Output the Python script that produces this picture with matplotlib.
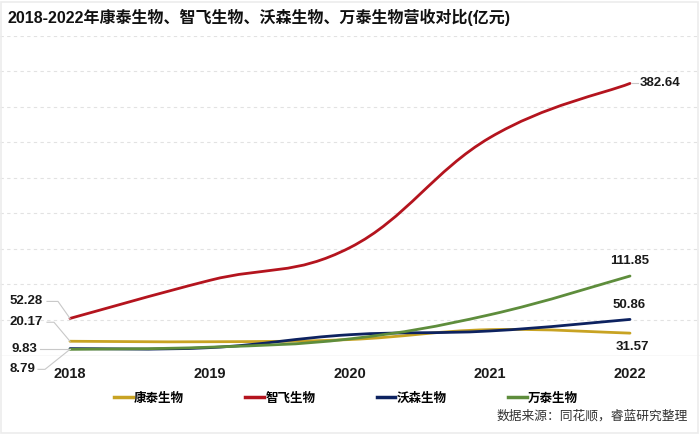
import numpy as np
import matplotlib
matplotlib.use("Agg")
import matplotlib.pyplot as plt
from matplotlib.path import Path
from matplotlib.patches import PathPatch, Rectangle
from matplotlib.lines import Line2D
import matplotlib.transforms as mtransforms

years = ["2018", "2019", "2020", "2021", "2022"]
kangtai = [20.17, 19.5, 22.6, 36.5, 31.57]
zhifei = [52.28, 105.87, 151.9, 306.52, 382.64]
wosen = [9.83, 11.21, 29.39, 34.63, 50.86]
wantai = [8.79, 11.84, 23.54, 57.5, 111.85]
names = ["康泰生物", "智飞生物", "沃森生物", "万泰生物"]
colors = ["#C8A323", "#B4141E", "#0D2260", "#5E8D3C"]
series = [kangtai, zhifei, wosen, wantai]
title = "2018-2022年康泰生物、智飞生物、沃森生物、万泰生物营收对比(亿元)"
source = "数据来源：同花顺，睿蓝研究整理"

NUMF = ["Liberation Sans", "Noto Sans CJK SC"]
CJKB = ["Noto Sans CJK SC", "DejaVu Sans"]

W, H = 700, 434
fig = plt.figure(figsize=(W / 100, H / 100), dpi=100)
fig.patch.set_facecolor("white")
ax = fig.add_axes([0, 1 - 355.6 / H, 1, (355.6 - 35.5) / H])
ax.set_xlim(-0.5, 4.5)
ax.set_ylim(0, 450)
for s in ax.spines.values():
    s.set_visible(False)
ax.set_yticks(np.arange(50, 451, 50))
ax.yaxis.grid(True, color="#e2e2e2", linestyle=(0, (3, 3)), linewidth=0.8)
ax.set_axisbelow(True)
ax.tick_params(axis="y", length=0, labelleft=False)
ax.axhline(0, color="#dcdcdc", linewidth=1.0, zorder=1)
x = np.arange(len(years))
ax.set_xticks(x)
ax.set_xticklabels(years, fontfamily=NUMF, fontweight="bold", fontsize=10.5, color="#1a1a1a")
ax.tick_params(axis="x", length=0, pad=8)


def smooth_path(xs, ys, s=0.2):
    pts = np.column_stack([xs, ys]).astype(float)
    n = len(pts)
    verts = [pts[0]]
    codes = [Path.MOVETO]
    for i in range(n - 1):
        p0 = pts[i - 1] if i > 0 else pts[i]
        p1 = pts[i]
        p2 = pts[i + 1]
        p3 = pts[i + 2] if i + 2 < n else pts[i + 1]
        c1 = p1 + s * (p2 - p0)
        c2 = p2 - s * (p3 - p1)
        verts += [c1, c2, p2]
        codes += [Path.CURVE4] * 3
    return Path(verts, codes)


for vals, c in zip(series, colors):
    patch = PathPatch(smooth_path(x, vals), facecolor="none", edgecolor=c,
                      linewidth=2.0, capstyle="round", zorder=3)
    ax.add_patch(patch)

fig.canvas.draw()
ident = mtransforms.IdentityTransform()


def label(xi, val, text, dx, dy, ha, leader=None):
    px, py = ax.transData.transform((xi, val))
    if leader:
        lx = [px + a for a, b in leader]
        ly = [py + b for a, b in leader]
        fig.add_artist(Line2D(lx, ly, transform=ident, color="#c8c8c8", linewidth=0.8, zorder=2))
    fig.text(px + dx, py + dy, text, transform=ident, ha=ha, va="center",
             fontfamily=NUMF, fontweight="bold", fontsize=9.5, color="#1a1a1a")


# left labels (2018)
label(0, zhifei[0], f"{zhifei[0]:.2f}", -27, 17, "right", [(0, 0), (-12, 17), (-23, 17)])
label(0, kangtai[0], f"{kangtai[0]:.2f}", -27, 19, "right", [(0, 0), (-16, 19), (-23, 19)])
label(0, wosen[0], f"{wosen[0]:.2f}", -33, 0, "right", [(0, 0), (-30, 0)])
label(0, wantai[0], f"{wantai[0]:.2f}", -35, -20, "right", [(0, 0), (-25, -20), (-32, -20)])
# right labels (2022)
label(4, zhifei[4], f"{zhifei[4]:.2f}", 10, 0, "left", [(2, 0), (8, 0)])
label(4, wantai[4], f"{wantai[4]:.2f}", 0, 15, "center")
label(4, wosen[4], f"{wosen[4]:.2f}", -1, 14, "center")
label(4, kangtai[4], f"{kangtai[4]:.2f}", 2, -14, "center")

# title
fig.text(8 / W, 1 - 17 / H, title, ha="left", va="center", fontfamily=NUMF,
         fontweight="bold", fontsize=11.5, color="#111111")

# legend
handles = [Line2D([0], [0], color=c, linewidth=2.5) for c in colors]
leg = fig.legend(handles, names, loc="center", bbox_to_anchor=(346 / W, 1 - 398 / H),
                 ncol=4, frameon=False, handlelength=1.5, handletextpad=0.1,
                 columnspacing=4.9, prop={"family": CJKB, "weight": "bold", "size": 9})

# source
fig.text(688 / W, 1 - 416 / H, source, ha="right", va="center", fontfamily=CJKB,
         fontsize=9.2, color="#333333")

# faint card border
fig.add_artist(Rectangle((1 / W, 1 / H), 1 - 3 / W, 1 - 3 / H, transform=fig.transFigure,
                         facecolor="none", edgecolor="#ececec", linewidth=1.2))

fig.savefig("out.png", dpi=100)
